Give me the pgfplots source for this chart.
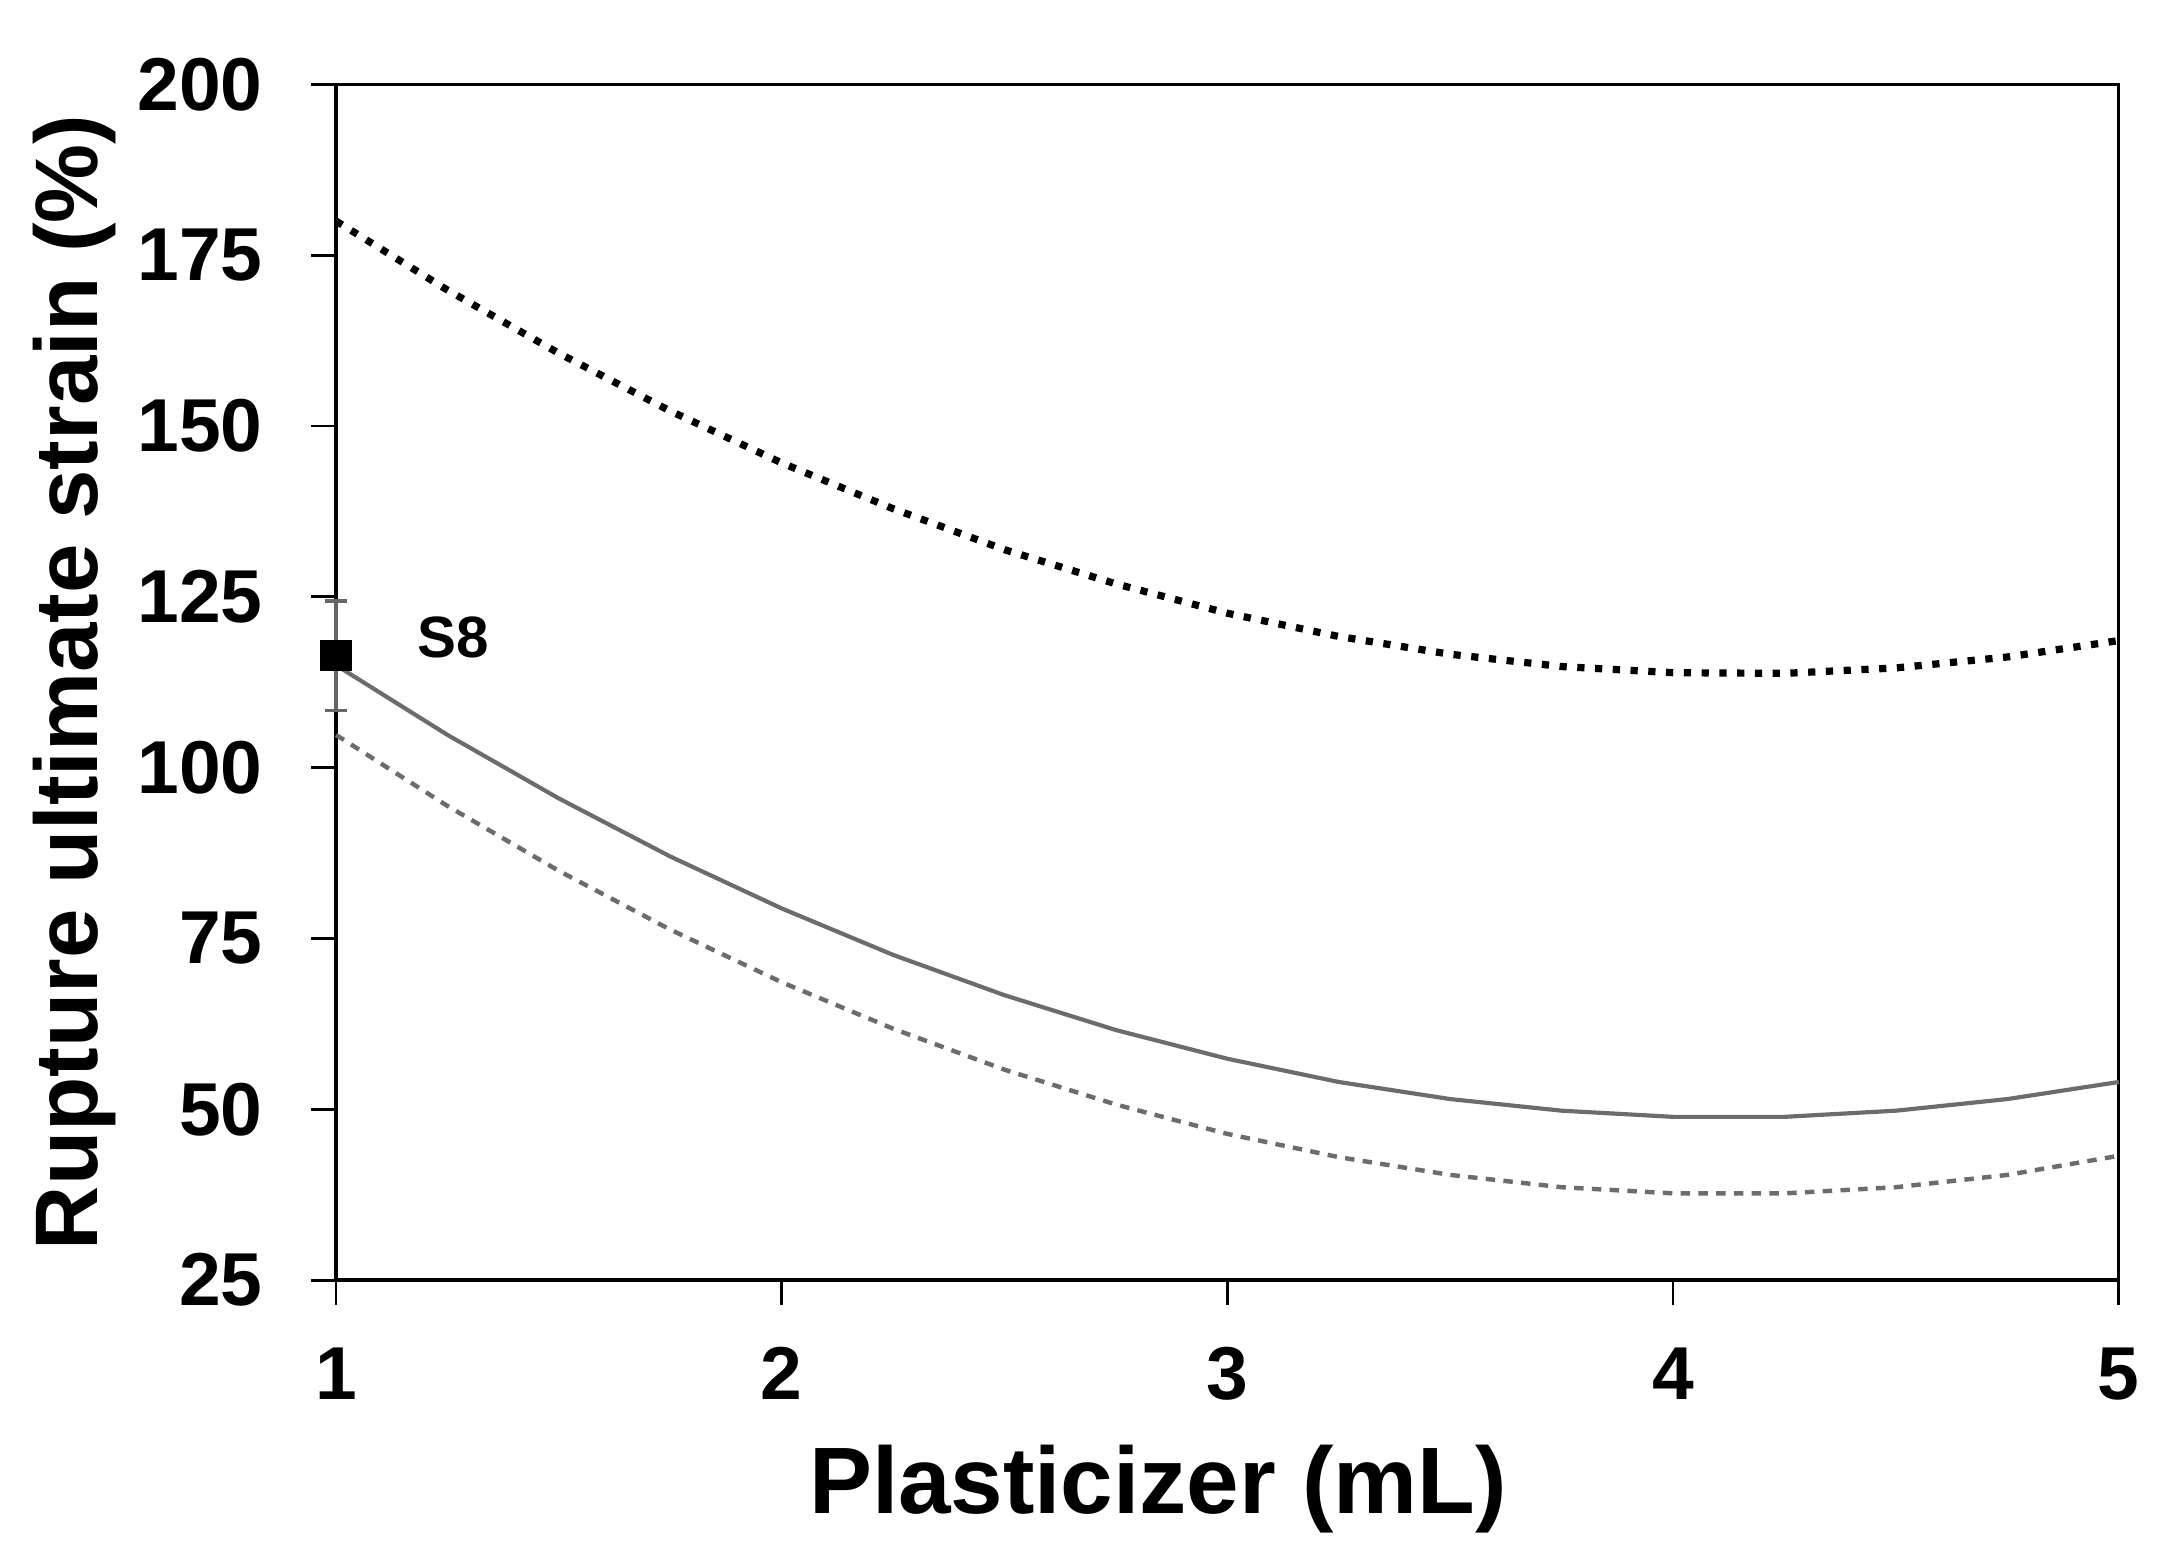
\documentclass[border=0pt]{standalone}
\usepackage{fontspec}
\setmainfont{Liberation Sans}
\usepackage{pgfplots}
\pgfplotsset{compat=1.18}
\begin{document}
\begin{tikzpicture}
\begin{axis}[
  at={(0,0)}, anchor=south west,
  scale only axis, width=321pt, height=215.3pt,
  xmin=1, xmax=5, ymin=25, ymax=200,
  xtick={1,2,3,4,5}, ytick={25,50,75,100,125,150,175,200},
  xtick pos=bottom, ytick pos=left, tick align=outside,
  major tick length=4.5pt,
  axis line style={line width=0.6pt},
  every tick/.style={black, line width=0.5pt},
  /pgf/number format/assume math mode=true,
  tick label style={font=\fontsize{13.5}{16}\selectfont\bfseries, inner sep=0pt},
  xticklabel style={anchor=base, yshift=-17pt},
  yticklabel style={anchor=east, xshift=-8.5pt},
  xlabel={Plasticizer (mL)}, ylabel={Rupture ultimate strain (\%)},
  every axis x label/.style={at={(axis description cs:0.5,0)}, anchor=base, yshift=-42pt, xshift=-12.5pt, font=\fontsize{17}{19}\selectfont\bfseries, inner sep=0pt},
  every axis y label/.style={at={(axis description cs:0,0.5)}, rotate=90, anchor=center, yshift=47pt, font=\fontsize{16}{19}\selectfont\bfseries, inner sep=0pt},
  clip=false,
]
% upper bound (dotted)
\addplot[black, line width=1.3pt, dash pattern=on 1.3pt off 1.9pt] coordinates {
(1,180.0) (1.25,169.9) (1.5,160.65) (1.75,152.2) (2,144.6) (2.25,137.9) (2.5,131.9) (2.75,126.9) (3,122.6) (3.25,119.2) (3.5,116.6) (3.75,114.8) (4,113.9) (4.25,113.8) (4.5,114.6) (4.75,116.2) (5,118.6)};
% fitted (solid)
\addplot[gray!85!black, line width=0.75pt] coordinates {
(1,115.0) (1.25,104.8) (1.5,95.5) (1.75,87.0) (2,79.4) (2.25,72.6) (2.5,66.7) (2.75,61.6) (3,57.4) (3.25,54.0) (3.5,51.5) (3.75,49.8) (4,48.9) (4.25,48.9) (4.5,49.8) (4.75,51.5) (5,54.0)};
% lower bound (dashed)
\addplot[gray!85!black, line width=0.8pt, dash pattern=on 1.7pt off 1.5pt] coordinates {
(1,104.8) (1.25,94.4) (1.5,84.9) (1.75,76.3) (2,68.6) (2.25,61.8) (2.5,55.8) (2.75,50.7) (3,46.4) (3.25,43.0) (3.5,40.4) (3.75,38.6) (4,37.7) (4.25,37.7) (4.5,38.6) (4.75,40.4) (5,43.2)};
% S8 point
\addplot[black, only marks, mark=square*, mark size=2.6pt,
  error bars/.cd, y dir=both, y explicit,
  error bar style={gray!80!black, line width=0.6pt},
  error mark options={rotate=90, mark size=1.9pt, gray!80!black, line width=0.6pt}]
  coordinates {(1,116.4) +- (0,8.0)};
\node[anchor=base west, inner sep=0pt, font=\fontsize{10.5}{12}\selectfont\bfseries] at (axis cs:1.18,116.1) {S8};
\end{axis}
\pgfresetboundingbox
\useasboundingbox (-60.5pt,-49.5pt) rectangle (329.5pt,230.5pt);
\end{tikzpicture}
\end{document}
